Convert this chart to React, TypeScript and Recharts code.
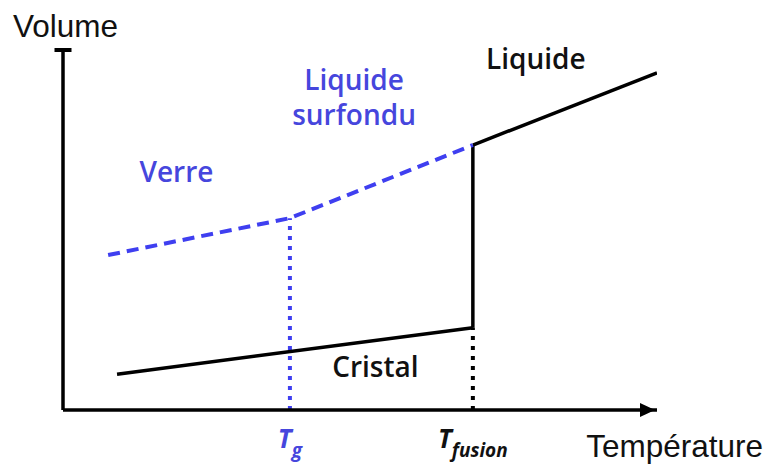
import { LineChart, Line, XAxis, YAxis, ReferenceDot, Label } from "recharts";

// schematic units: temperature 0–100, volume 0–100
const cristal = [
  { x: 9.1, y: 9.9 },
  { x: 69, y: 22.7 },
];
const fusionJump = [
  { x: 69, y: 22.7 },
  { x: 69, y: 73.2 },
];
const liquide = [
  { x: 69, y: 73.2 },
  { x: 100, y: 93.1 },
];
const verreSurfondu = [
  { x: 7.6, y: 42.8 },
  { x: 38.2, y: 53.0 },
  { x: 69, y: 73.2 },
];
const tgDrop = [
  { x: 38.2, y: 0 },
  { x: 38.2, y: 53.0 },
];
const tfDrop = [
  { x: 69, y: 0 },
  { x: 69, y: 22.7 },
];

const tickValues = [38.2, 69];
const tickSubs = ["g", "fusion"];

const notes = [
  { x: 79.6, y: 94.2, text: "Liquide", blue: false },
  { x: 49.0, y: 88.4, text: "Liquide", blue: true },
  { x: 49.0, y: 78.7, text: "surfondu", blue: true },
  { x: 19.1, y: 63.0, text: "Verre", blue: true },
  { x: 52.6, y: 9.1, text: "Cristal", blue: false },
];

const BLUE = "#3f3ff0";
const BLUE_TEXT = "#4646dd";
const INK = "#000";
const NOTE_FONT = "'Open Sans', 'Noto Sans', sans-serif";
const AXIS_FONT = "'Liberation Sans', Arial, sans-serif";

function TempTick(props: any) {
  const { x, y, payload, index } = props;
  const i = index ?? tickValues.indexOf(payload.value);
  const color = i === 0 ? BLUE_TEXT : "#111";
  return (
    <text
      x={x}
      y={y + 30}
      textAnchor="middle"
      fill={color}
      fontFamily={NOTE_FONT}
      fontWeight={700}
      fontStyle="italic"
    >
      <tspan fontSize={26}>T</tspan>
      <tspan fontSize={19} dy={9}>
        {tickSubs[i]}
      </tspan>
    </text>
  );
}

export default function App() {
  return (
    <div style={{ position: "absolute", left: 0, top: 0, background: "#fff" }}>
      <LineChart
        width={767}
        height={466}
        margin={{ top: 48, right: 110, bottom: 6, left: 13 }}
      >
        <XAxis
          type="number"
          dataKey="x"
          domain={[0, 100]}
          ticks={tickValues}
          tick={<TempTick />}
          tickLine={false}
          axisLine={{ stroke: INK, strokeWidth: 3.5 }}
          height={50}
          allowDataOverflow
        >
          <Label
            content={(p: any) => {
              const vb = p.viewBox;
              return (
                <text
                  x={vb.x + vb.width + 106}
                  y={vb.y + 47}
                  textAnchor="end"
                  fontFamily={AXIS_FONT}
                  fontSize={31.5}
                  fill="#111"
                >
                  Température
                </text>
              );
            }}
          />
        </XAxis>
        <YAxis
          type="number"
          domain={[0, 100]}
          width={50}
          tick={false}
          tickLine={false}
          axisLine={{ stroke: INK, strokeWidth: 3.5 }}
          allowDataOverflow
        >
          <Label
            content={(p: any) => {
              const vb = p.viewBox;
              return (
                <text
                  x={vb.x}
                  y={vb.y - 11}
                  fontFamily={AXIS_FONT}
                  fontSize={31.5}
                  fill="#111"
                >
                  Volume
                </text>
              );
            }}
          />
        </YAxis>

        <Line data={tgDrop} dataKey="y" stroke={BLUE} strokeWidth={4} strokeDasharray="4 6" dot={false} isAnimationActive={false} />
        <Line data={tfDrop} dataKey="y" stroke={INK} strokeWidth={4} strokeDasharray="4 6" dot={false} isAnimationActive={false} />
        <Line data={cristal} dataKey="y" stroke={INK} strokeWidth={3.5} dot={false} isAnimationActive={false} />
        <Line data={fusionJump} dataKey="y" stroke={INK} strokeWidth={3.5} dot={false} isAnimationActive={false} />
        <Line data={liquide} dataKey="y" stroke={INK} strokeWidth={3.5} dot={false} isAnimationActive={false} />
        <Line data={verreSurfondu} dataKey="y" stroke={BLUE} strokeWidth={4} strokeDasharray="12 7" dot={false} isAnimationActive={false} />

        <ReferenceDot
          x={100}
          y={0}
          ifOverflow="visible"
          shape={(p: any) => (
            <polygon
              points={`${p.cx - 17},${p.cy - 7} ${p.cx - 2},${p.cy} ${p.cx - 17},${p.cy + 7}`}
              fill={INK}
            />
          )}
        />
        <ReferenceDot
          x={0}
          y={100}
          ifOverflow="visible"
          shape={(p: any) => <rect x={p.cx - 8.5} y={p.cy} width={17} height={4} fill={INK} />}
        />

        {notes.map((n, i) => (
          <ReferenceDot
            key={i}
            x={n.x}
            y={n.y}
            ifOverflow="visible"
            shape={(p: any) => (
              <text
                x={p.cx}
                y={p.cy}
                textAnchor="middle"
                fontFamily={NOTE_FONT}
                fontSize={28}
                fontWeight={600}
                fill={n.blue ? BLUE_TEXT : "#111"}
              >
                {n.text}
              </text>
            )}
          />
        ))}
      </LineChart>
    </div>
  );
}
